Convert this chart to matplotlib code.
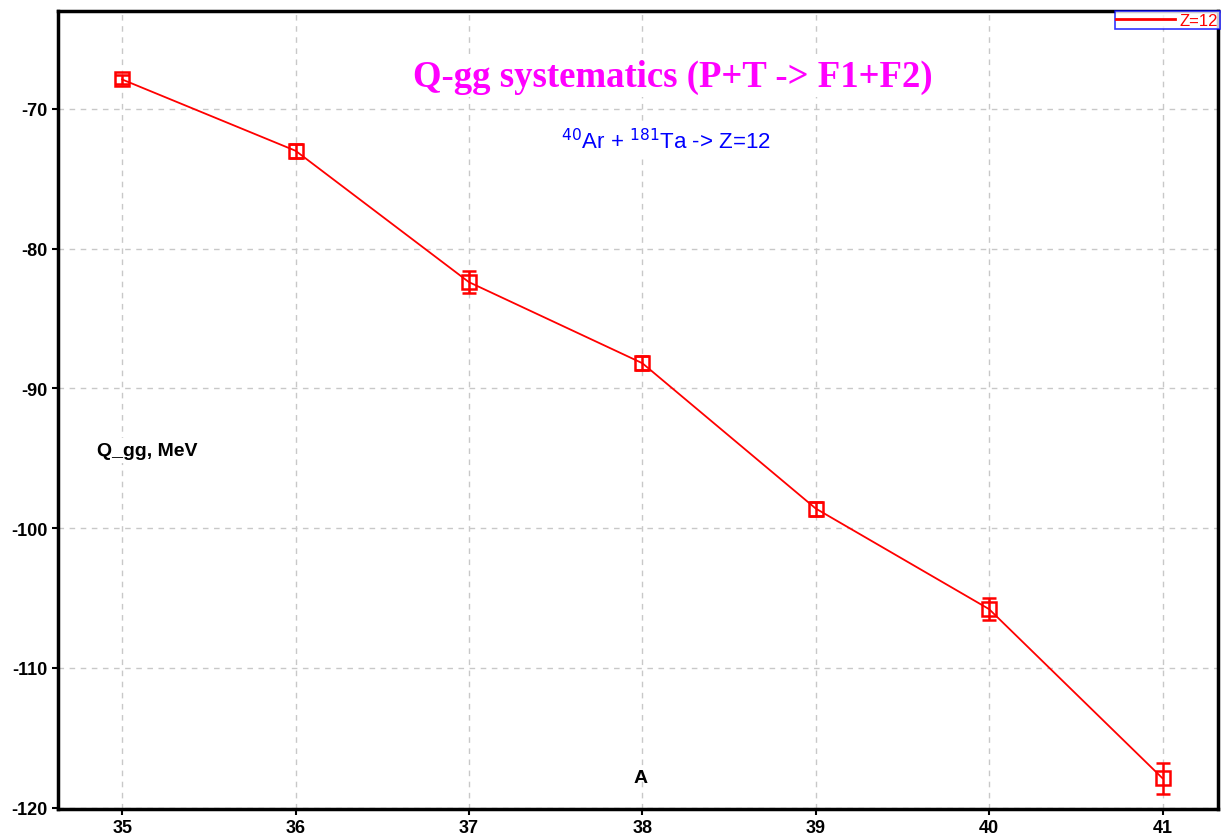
import matplotlib
matplotlib.use("Agg")
import matplotlib.pyplot as plt
from matplotlib.lines import Line2D

plt.rcParams['font.family'] = ['Liberation Sans', 'DejaVu Sans']
plt.rcParams['axes.unicode_minus'] = False

# data
mass = [35, 36, 37, 38, 39, 40, 41]
qgg = [-67.9, -73.0, -82.4, -88.2, -98.6, -105.8, -117.9]
qgg_err = [0.3, 0.5, 0.8, 0.5, 0.5, 0.8, 1.1]
xticks = [35, 36, 37, 38, 39, 40, 41]
yticks = [-70, -80, -90, -100, -110, -120]

fig = plt.figure(figsize=(12.25, 8.37), dpi=100)
ax = fig.add_axes([58/1225, 1 - 810/837, (1218-58)/1225, (810-12)/837])

ax.errorbar(mass, qgg, yerr=qgg_err, color='red', lw=1.3, marker='s', ms=10,
            mfc='none', mec='red', mew=1.8, capsize=5, elinewidth=1.8,
            capthick=1.8, zorder=3)

ax.set_xlim(34.63, 41.32)
ax.set_ylim(-120.1, -63.0)
ax.set_xticks(xticks)
ax.set_yticks(yticks)
ax.tick_params(labelsize=13, length=4, width=1.5, direction='out')
for lab in ax.get_xticklabels() + ax.get_yticklabels():
    lab.set_fontweight('bold')
ax.grid(True, ls=(0, (4, 4)), color='#c8c8c8', lw=1)
for s in ax.spines.values():
    s.set_linewidth(2.5)
    s.set_color('black')

ax.text(0.53, 0.918, 'Q-gg systematics (P+T -> F1+F2)', transform=ax.transAxes,
        ha='center', va='center', color='#ff00ff', fontsize=26.5, fontweight='bold',
        family='Liberation Serif', bbox=dict(fc='white', ec='none', pad=2))
ax.text(0.524, 0.838, r'$^{40}$Ar + $^{181}$Ta -> Z=12', transform=ax.transAxes,
        ha='center', va='center', color='#0000ff', fontsize=16,
        bbox=dict(fc='white', ec='none', pad=2))
ax.text(0.077, 0.449, 'Q_gg, MeV', transform=ax.transAxes, ha='center', va='center',
        fontsize=14, fontweight='bold', bbox=dict(fc='white', ec='none', pad=3))
ax.text(0.502, 0.04, 'A', transform=ax.transAxes, ha='center', va='center',
        fontsize=14, fontweight='bold')

handle = Line2D([], [], color='red', lw=2)
leg = ax.legend([handle], ['Z=12'], loc='upper right', bbox_to_anchor=(1.0015, 1.0),
                fontsize=12, frameon=True, fancybox=False, borderpad=0.1,
                handlelength=3.5, handletextpad=0.3, borderaxespad=0.0)
leg.get_frame().set_edgecolor('blue')
leg.get_frame().set_linewidth(1.2)
for t in leg.get_texts():
    t.set_color('red')

fig.savefig('out.png', dpi=100)
